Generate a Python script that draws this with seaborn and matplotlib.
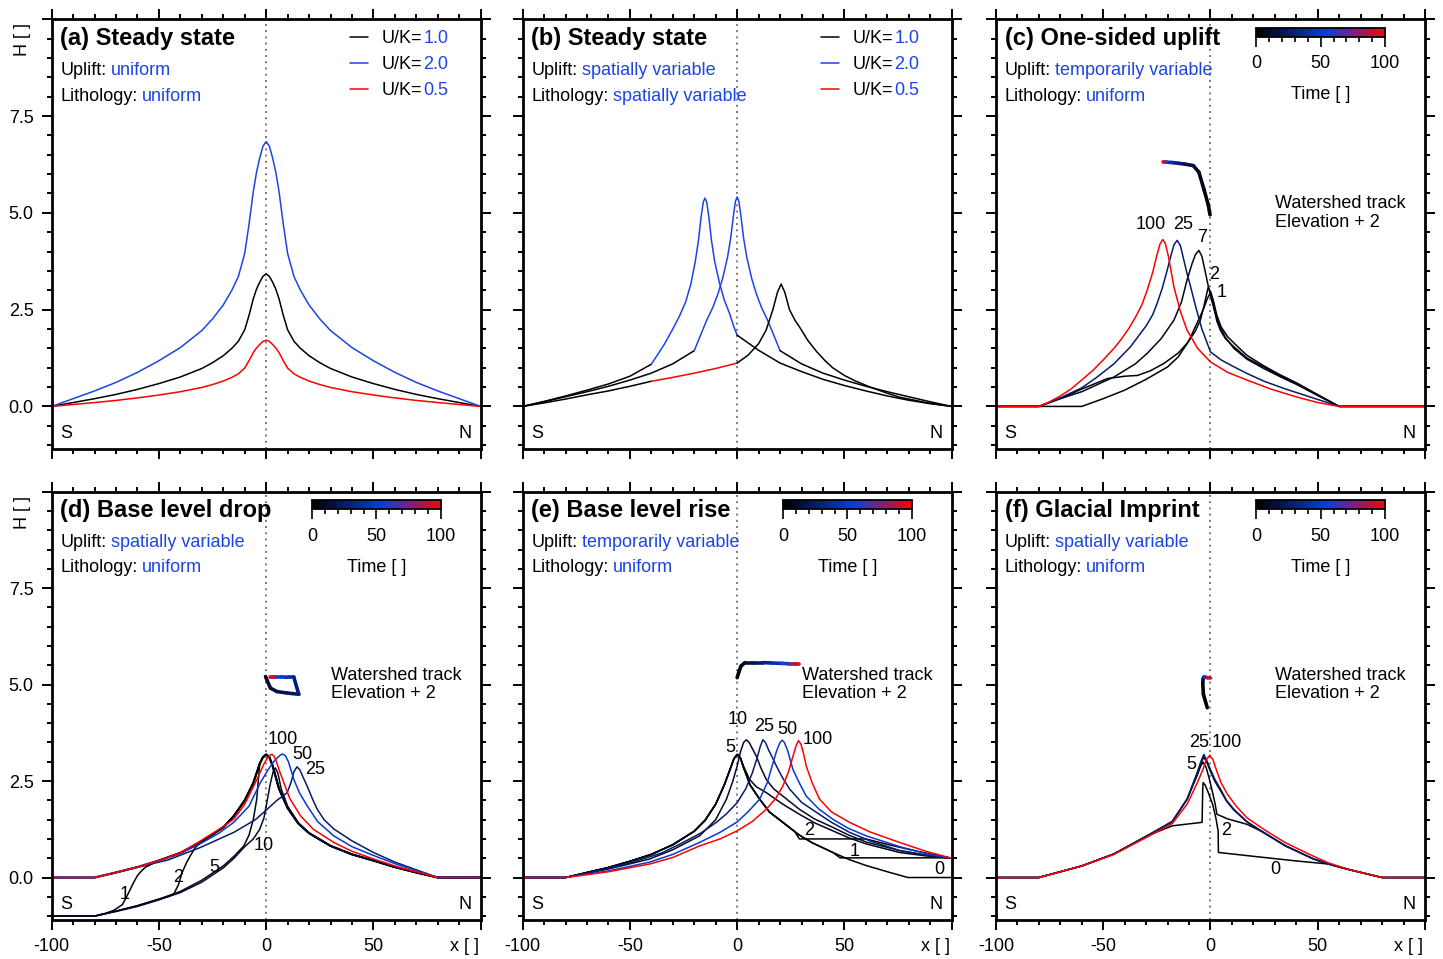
import numpy as np
import matplotlib
matplotlib.use('Agg')
import matplotlib.pyplot as plt
from matplotlib.colors import LinearSegmentedColormap, Normalize
from matplotlib.collections import LineCollection
from matplotlib.lines import Line2D
from matplotlib.ticker import MultipleLocator
import matplotlib.cm as cm
import seaborn as sns

# ---------------- data ----------------
# (a) steady state, uniform uplift / lithology
a_x = [-100, -90, -80, -70, -60, -50, -40, -30, -25, -20, -16, -13, -10, -8, -6, -4.5, -3, -1.5, 0,
       1.5, 3, 4.5, 6, 8, 10, 13, 16, 20, 25, 30, 40, 50, 60, 70, 80, 90, 100]
a_uk1 = [0, 0.1, 0.2, 0.31, 0.44, 0.59, 0.76, 0.98, 1.13, 1.31, 1.5, 1.68, 1.98, 2.35, 2.78, 3.03,
         3.21, 3.36, 3.42,
         3.36, 3.21, 3.03, 2.78, 2.35, 1.98, 1.68, 1.5, 1.31, 1.13, 0.98, 0.76, 0.59, 0.44, 0.31,
         0.2, 0.1, 0]
a_uk2 = [0, 0.2, 0.4, 0.62, 0.88, 1.18, 1.52, 1.96, 2.26, 2.62, 3.0, 3.35, 3.95, 4.7, 5.55, 6.05,
         6.42, 6.72, 6.84,
         6.72, 6.42, 6.05, 5.55, 4.7, 3.95, 3.35, 3.0, 2.62, 2.26, 1.96, 1.52, 1.18, 0.88, 0.62,
         0.4, 0.2, 0]
a_uk05 = [0, 0.05, 0.1, 0.155, 0.22, 0.295, 0.38, 0.49, 0.565, 0.655, 0.75, 0.84, 0.99, 1.18, 1.39,
          1.51, 1.6, 1.68, 1.71,
          1.68, 1.6, 1.51, 1.39, 1.18, 0.99, 0.84, 0.75, 0.655, 0.565, 0.49, 0.38, 0.295, 0.22,
          0.155, 0.1, 0.05, 0]
uk_labels = ['1.0', '2.0', '0.5']

# (b) steady state, spatially variable; each profile split into coloured pieces
b1_black_l_x = [-100, -90, -80, -70, -60, -50, -40]
b1_black_l_y = [0, 0.13, 0.27, 0.42, 0.58, 0.78, 1.09]
b1_blue_x = [-40, -34, -30, -27, -24, -21.5, -19.5, -18, -16.8, -15.8, -15, -14.2, -13.2, -12,
             -10.5, -8.2, -6, -3.6, -1.5, 0]
b1_blue_y = [1.09, 1.6, 2.0, 2.32, 2.7, 3.18, 3.75, 4.3, 4.9, 5.28, 5.38, 5.28, 4.9, 4.3,
             3.75, 3.18, 2.75, 2.41, 2.05, 1.84]
b1_black_r_x = [0, 10, 20, 30, 40, 50, 60, 70, 80, 90, 100]
b1_black_r_y = [1.84, 1.45, 1.12, 0.9, 0.7, 0.54, 0.4, 0.27, 0.16, 0.07, 0]

b2_black_l_x = [-100, -90, -80, -70, -60, -50, -40, -30, -20]
b2_black_l_y = [0, 0.12, 0.25, 0.38, 0.52, 0.68, 0.86, 1.1, 1.44]
b2_blue_x = [-20, -17, -14, -11.4, -9, -6.8, -4.5, -3, -1.8, -0.8, 0, 0.8, 1.8, 3, 4.5, 6.8, 9,
             11.4, 14, 17, 20]
b2_blue_y = [1.44, 1.85, 2.25, 2.55, 2.9, 3.3, 3.85, 4.35, 4.9, 5.3, 5.41, 5.3, 4.9, 4.35, 3.85,
             3.3, 2.9, 2.55, 2.25, 1.85, 1.44]
b2_black_r_x = [20, 30, 40, 50, 60, 70, 80, 90, 100]
b2_black_r_y = [1.44, 1.1, 0.86, 0.68, 0.52, 0.38, 0.25, 0.12, 0]

b3_black_l_x = [-100, -90, -80, -70, -60, -50, -40]
b3_black_l_y = [0, 0.09, 0.19, 0.3, 0.4, 0.52, 0.65]
b3_red_x = [-40, -30, -20, -10, 0]
b3_red_y = [0.65, 0.75, 0.86, 0.98, 1.12]
b3_black_r_x = [0, 5, 10, 13.5, 16.6, 18.8, 20.5, 22.2, 24.4, 27, 29, 33, 37, 41, 44.5, 50, 55,
                62, 70, 75.6, 88, 100]
b3_black_r_y = [1.12, 1.32, 1.62, 1.97, 2.49, 2.95, 3.16, 2.95, 2.5, 2.22, 2.06, 1.7, 1.42, 1.18,
                1.0, 0.8, 0.66, 0.5, 0.34, 0.24, 0.1, 0]

# (c) one-sided uplift, profiles at times 1, 2, 7, 25, 100
c_t = [1, 2, 7, 25, 100]
c1_x = [-100, -60, -50, -40, -30, -20, -15, -10, -7.8, -5, -3, -1.5, -0.3, 0.7, 1.5, 3, 4.6, 7,
        10.9, 17, 24.8, 32, 40.4, 50, 60, 100]
c1_y = [0, 0, 0.2, 0.42, 0.7, 1.02, 1.28, 1.7, 1.97, 2.3, 2.55, 2.78, 2.91, 2.8, 2.58, 2.2, 1.97,
        1.75, 1.54, 1.25, 1.02, 0.8, 0.59, 0.3, 0, 0]
c2_x = [-100, -80, -68.3, -60, -48, -40, -34, -28, -21.7, -15, -10.9, -7, -4.7, -3, -1.1, 0.2,
        1.5, 3, 5, 8, 12, 17, 24.8, 32, 40.4, 50, 60, 100]
c2_y = [0, 0, 0.24, 0.45, 0.72, 0.78, 0.8, 0.92, 1.11, 1.38, 1.63, 1.95, 2.23, 2.6, 3.07, 2.95,
        2.7, 2.35, 2.05, 1.8, 1.58, 1.32, 1.05, 0.83, 0.6, 0.3, 0, 0]
c7_x = [-100, -80, -70, -60, -45, -35, -29.5, -23, -17, -13.5, -10.9, -8.5, -7, -5.4, -4, -2.5,
        -1, 0.5, 2, 3.5, 5, 7, 10.9, 17, 24.8, 32, 40.4, 50, 60, 100]
c7_y = [0, 0, 0.2, 0.38, 0.76, 1.1, 1.37, 1.75, 2.23, 2.7, 3.27, 3.7, 3.92, 4.03, 3.88, 3.5, 3.1,
        2.75, 2.45, 2.2, 2.0, 1.78, 1.5, 1.22, 0.98, 0.78, 0.56, 0.28, 0, 0]
c25_x = [-100, -80, -75, -70, -65, -60, -52.8, -45, -37.3, -30, -27, -24.8, -22.5, -20.5, -18.5,
         -17, -15.5, -14, -12.5, -11, -9.3, -7, -4, 0, 5, 10, 17.1, 25, 35, 45, 60, 100]
c25_y = [0, 0, 0.1, 0.22, 0.35, 0.48, 0.76, 1.1, 1.54, 2.08, 2.36, 2.67, 3.05, 3.45, 3.88, 4.18,
         4.29, 4.15, 3.8, 3.45, 3.1, 2.6, 2.0, 1.41, 1.2, 1.05, 0.85, 0.65, 0.45, 0.27, 0, 0]
c100_x = [-100, -80, -75, -70, -65, -60.5, -55, -50, -45, -41.9, -38, -35, -32, -29.5, -27, -25,
          -23.5, -22.2, -21, -19.5, -17.1, -14, -10.9, -6, 0, 8, 17.1, 28, 40.4, 50, 60, 100]
c100_y = [0, 0, 0.12, 0.27, 0.45, 0.66, 0.92, 1.2, 1.5, 1.71, 2.02, 2.3, 2.62, 3.0, 3.45, 3.9,
          4.2, 4.31, 4.2, 3.85, 3.1, 2.45, 1.97, 1.5, 1.15, 0.88, 0.68, 0.45, 0.24, 0.1, 0, 0]
c_lab_x = [-28, -12.6, -3.7, 1.9, 5.1]
c_lab_y = [4.7, 4.7, 4.36, 3.4, 2.94]
c_lab = ['100', '25', '7', '2', '1']
c_trk_t = [0, 1, 2, 4, 7, 12, 18, 25, 35, 50, 70, 90, 100]
c_trk_x = [-0.2, -0.5, -1, -3, -5.4, -8, -12, -15, -18, -20.5, -21.5, -21.8, -22]
c_trk_y = [4.95, 5.05, 5.2, 5.6, 6.05, 6.22, 6.26, 6.28, 6.3, 6.31, 6.32, 6.32, 6.32]

# (d) base level drop
d_t = [0, 1, 2, 5, 10, 25, 50, 100]
d0_x = [-100, -80, -70, -60, -50, -40, -30, -20, -15, -10, -6, -3, -1.5, 0, 1.5, 3, 6, 10, 15,
        20, 30, 40, 50, 60, 70, 80, 100]
d0_y = [0, 0, 0.13, 0.27, 0.44, 0.64, 0.93, 1.3, 1.6, 2.0, 2.45, 2.95, 3.12, 3.19, 3.12, 2.9,
        2.3, 1.8, 1.4, 1.15, 0.82, 0.6, 0.44, 0.27, 0.13, 0, 0]
d1_x = [-100, -80, -75, -71, -67, -64.7, -62, -60, -58, -56.2, -50, -40, -30, -20, -15, -10,
        -6, -3, -1.5, 0, 1.5, 3, 6, 10, 15, 20, 30, 40, 50, 60, 70, 80, 100]
d1_y = [-1, -1, -0.93, -0.85, -0.7, -0.46, -0.15, 0.05, 0.18, 0.27, 0.44, 0.64, 0.93, 1.3, 1.6,
        2.0, 2.45, 2.95, 3.12, 3.19, 3.12, 2.9, 2.3, 1.8, 1.4, 1.15, 0.82, 0.6, 0.44, 0.27,
        0.13, 0, 0]
d2_x = [-100, -80, -70, -60, -50, -45, -43, -41, -39.1, -37, -35.3, -33, -30, -20, -15, -10, -6,
        -3, -1.5, 0, 1.5, 3, 6, 10, 15, 20, 30, 40, 50, 60, 70, 80, 100]
d2_y = [-1, -1, -0.87, -0.73, -0.56, -0.48, -0.42, -0.2, 0.14, 0.4, 0.57, 0.78, 0.93, 1.3, 1.6,
        2.0, 2.45, 2.95, 3.12, 3.19, 3.12, 2.9, 2.3, 1.8, 1.4, 1.15, 0.82, 0.6, 0.44, 0.27,
        0.13, 0, 0]
d5_x = [-100, -80, -70, -60, -50, -40, -30, -20, -15, -10.4, -8, -6, -4.4, -3, -1.5, 0, 1.5, 3,
        6, 10, 15, 20, 30, 40, 50, 60, 70, 80, 100]
d5_y = [-1, -1, -0.87, -0.73, -0.56, -0.36, -0.07, 0.3, 0.55, 0.82, 1.1, 1.5, 2.03, 2.95, 3.12,
        3.19, 3.12, 2.9, 2.3, 1.8, 1.4, 1.15, 0.82, 0.6, 0.44, 0.27, 0.13, 0, 0]
d10_x = [-100, -80, -70, -60, -50, -40, -30, -20, -15, -10, -6, -3, -1, 0.5, 2, 3.3, 4.3, 5.5, 7,
         10, 15, 20, 30, 40, 50, 60, 70, 80, 100]
d10_y = [-1, -1, -0.88, -0.75, -0.58, -0.39, -0.12, 0.25, 0.5, 0.8, 1.0, 1.25, 1.55, 2.0, 2.45,
         2.75, 2.84, 2.7, 2.3, 1.85, 1.42, 1.15, 0.82, 0.6, 0.44, 0.27, 0.13, 0, 0]
d25_x = [-100, -80, -70, -60, -46, -30.6, -15.1, -5, 0.5, 5, 8, 9.8, 11.5, 13, 14.4, 15.8, 17.2,
         19.1, 21.5, 23.8, 27, 31.5, 40, 50, 60, 70, 80, 100]
d25_y = [0, 0, 0.13, 0.27, 0.45, 0.78, 1.17, 1.5, 1.77, 2.0, 2.12, 2.2, 2.45, 2.75, 2.87, 2.78,
         2.6, 2.37, 2.05, 1.77, 1.5, 1.26, 0.95, 0.65, 0.4, 0.2, 0, 0]
d50_x = [-100, -80, -70, -60, -50, -40, -30.6, -22, -15.1, -8, -2.7, 1, 3.5, 5.5, 6.8, 7.9, 9,
         10.4, 12.9, 15.5, 19.1, 24, 31.5, 40, 50.1, 60, 70, 80, 100]
d50_y = [0, 0, 0.13, 0.27, 0.43, 0.62, 0.88, 1.15, 1.43, 1.85, 2.46, 2.8, 3.0, 3.12, 3.18, 3.2,
         3.15, 3.0, 2.54, 2.2, 1.86, 1.45, 1.08, 0.8, 0.57, 0.36, 0.18, 0, 0]
d100_x = [-100, -80, -70, -60, -50, -40, -30.6, -22, -15.1, -10, -5.8, -3, -1, 0.8, 2, 2.8, 3.6,
          4.8, 6.3, 8.2, 11, 16, 22, 31.5, 40, 50.1, 60, 70, 80, 100]
d100_y = [0, 0, 0.13, 0.27, 0.44, 0.64, 0.95, 1.25, 1.51, 1.9, 2.37, 2.7, 2.95, 3.12, 3.18,
          3.19, 3.15, 3.0, 2.75, 2.46, 2.05, 1.6, 1.25, 0.91, 0.68, 0.48, 0.3, 0.15, 0, 0]
d_lab_x = [7.9, 16.8, 23, -1.1, -24.1, -41.2, -66]
d_lab_y = [3.57, 3.19, 2.8, 0.83, 0.27, 0.0, -0.44]
d_lab = ['100', '50', '25', '10', '5', '2', '1']
d_trk_t = [0, 10, 13, 16, 20, 25, 30, 40, 50, 60, 75, 90, 100]
d_trk_x = [-0.3, 0.5, 2, 5, 10, 15.2, 12.9, 10, 7, 4.5, 3.5, 2.8, 2.0]
d_trk_y = [5.21, 5.1, 4.91, 4.82, 4.78, 4.75, 5.19, 5.19, 5.2, 5.2, 5.2, 5.2, 5.2]

# (e) base level rise
e_t = [0, 1, 2, 5, 10, 25, 50, 100]
e0_x = [-100, -80, -70, -60, -50, -40, -30, -20, -15, -10, -6, -3, -1.5, 0, 1.5, 3, 6, 10.5, 15,
        21.3, 29, 35, 44.6, 52, 60.2, 70, 79.6, 100]
e0_y = [0, 0, 0.13, 0.26, 0.42, 0.6, 0.85, 1.2, 1.48, 1.9, 2.4, 2.85, 3.08, 3.19, 3.1, 2.85,
        2.4, 2.03, 1.7, 1.43, 1.1, 0.9, 0.65, 0.47, 0.31, 0.15, 0, 0]
e1_x = [-100, -80, -70, -60, -50, -40, -30, -20, -15, -10, -6, -3, -1.5, 0, 1.5, 3, 6, 10.5, 15,
        21.3, 29, 35, 44.6, 48, 100]
e1_y = [0, 0, 0.13, 0.26, 0.42, 0.6, 0.85, 1.2, 1.48, 1.9, 2.4, 2.85, 3.08, 3.19, 3.1, 2.85,
        2.4, 2.03, 1.7, 1.43, 1.1, 0.9, 0.65, 0.51, 0.51]
e2_x = [-100, -80, -70, -60, -50, -40, -30, -20, -15, -10, -6, -3, -1.5, 0, 1.5, 3, 6, 10.5, 15,
        21.3, 27, 29, 60, 70, 80, 90, 100]
e2_y = [0, 0, 0.13, 0.26, 0.42, 0.6, 0.85, 1.2, 1.48, 1.9, 2.4, 2.85, 3.08, 3.19, 3.1, 2.85,
        2.4, 2.03, 1.7, 1.43, 1.18, 1.0, 1.0, 0.86, 0.73, 0.61, 0.5]
e5_x = [-100, -80, -70, -60, -50, -40, -30, -20, -15, -10, -6, -3, -1.5, 0, 1.5, 3, 5.8, 9,
        13.6, 21.3, 29, 36, 44.6, 52, 60.2, 75.7, 88, 100]
e5_y = [0, 0, 0.13, 0.26, 0.42, 0.6, 0.85, 1.2, 1.48, 1.9, 2.4, 2.85, 3.08, 3.19, 3.1, 2.88,
        2.54, 2.35, 2.2, 1.9, 1.64, 1.42, 1.21, 1.03, 0.87, 0.65, 0.56, 0.5]
e10_x = [-100, -80, -60, -40.8, -30, -17.5, -10, -5, -2, 0, 1.5, 3, 4.3, 5.6, 7, 8.9, 11, 13.6,
         17, 21.3, 29, 36, 44.6, 52, 60.2, 75.7, 88, 100]
e10_y = [0, 0, 0.22, 0.48, 0.72, 1.08, 1.5, 2.03, 2.5, 2.89, 3.25, 3.5, 3.57, 3.5, 3.35, 3.15,
         2.85, 2.54, 2.3, 2.11, 1.77, 1.52, 1.3, 1.1, 0.92, 0.7, 0.58, 0.5]
e25_x = [-100, -80, -65, -48.5, -35, -25.2, -17, -9.7, -5, 0, 4, 7, 9.3, 10.8, 12, 13.2, 14.7,
         16.5, 18.3, 21, 24.5, 30, 36.9, 44, 52.4, 62, 75.7, 88, 100]
e25_y = [0, 0, 0.18, 0.4, 0.64, 0.91, 1.15, 1.43, 1.65, 1.94, 2.3, 2.7, 3.1, 3.4, 3.57, 3.5,
         3.3, 3.1, 2.89, 2.6, 2.29, 1.95, 1.69, 1.43, 1.17, 0.95, 0.7, 0.58, 0.5]
e50_x = [-100, -80, -60, -40.8, -30, -17.5, -8, 0, 5, 10.5, 14, 16.7, 18.5, 20, 21, 22, 23.5, 26,
         29, 32.2, 38, 44.6, 52, 60.2, 75.7, 88, 100]
e50_y = [0, 0, 0.17, 0.4, 0.6, 0.91, 1.17, 1.44, 1.7, 2.03, 2.45, 2.97, 3.3, 3.5, 3.56, 3.5,
         3.3, 2.8, 2.45, 2.11, 1.78, 1.51, 1.27, 1.08, 0.8, 0.62, 0.5]
e100_x = [-100, -80, -60, -40.8, -30, -17.5, -8, 0, 7, 13.6, 18, 21.3, 24, 26, 27.5, 28.6, 29.8,
          31, 32.2, 35, 38.4, 44, 52.4, 62, 75.7, 88, 100]
e100_y = [0, 0, 0.15, 0.35, 0.52, 0.82, 1.0, 1.21, 1.45, 1.77, 2.05, 2.37, 2.75, 3.14, 3.42,
          3.55, 3.45, 3.2, 2.89, 2.45, 2.03, 1.7, 1.43, 1.18, 0.91, 0.68, 0.5]
e_lab_x = [0.4, 12.5, 23.4, 37.6, -3.2, 33.5, 54.7, 94.3]
e_lab_y = [4.09, 3.92, 3.83, 3.59, 3.36, 1.21, 0.68, 0.2]
e_lab = ['10', '25', '50', '100', '5', '2', '1', '0']
e_trk_t = [0, 3, 6, 10, 18, 25, 35, 50, 65, 80, 90, 100]
e_trk_x = [0, 0.8, 1.8, 3.6, 8, 12, 16, 21, 24, 26.5, 28, 29]
e_trk_y = [5.18, 5.33, 5.48, 5.57, 5.57, 5.57, 5.56, 5.55, 5.54, 5.54, 5.53, 5.53]

# (f) glacial imprint
f_t = [0, 2, 5, 25, 100]
f0_x = [-100, -80, -70, -60, -45, -29.5, -17.8, -3.9, -3.6, -3.4, -2.5, -1, 1, 2.5, 3.6, 3.7,
        20, 40, 55, 65, 80, 100]
f0_y = [0, 0, 0.15, 0.3, 0.61, 1.08, 1.34, 1.43, 2.3, 2.46, 2.4, 2.2, 1.9, 1.55, 1.2, 0.65, 0.55,
        0.43, 0.35, 0.2, 0, 0]
f2_x = [-100, -80, -70, -60, -45, -29.5, -17.8, -10.9, -6.2, -4.5, -3.4, -2, -0.5, 1, 2.2, 3.0,
        8, 17, 24.8, 35, 48.1, 55, 65, 80, 100]
f2_y = [0, 0, 0.15, 0.3, 0.61, 1.08, 1.45, 2.03, 2.65, 2.9, 2.99, 2.85, 2.55, 2.2, 1.9, 1.64,
        1.52, 1.38, 1.17, 0.82, 0.48, 0.35, 0.2, 0, 0]
f5_x = [-100, -80, -70, -60, -45, -29.5, -17.8, -10.9, -6.2, -4.5, -3.2, -1.8, 0, 2, 4.7, 7.5,
        10.9, 17, 24.8, 35, 48.1, 55, 65, 80, 100]
f5_y = [0, 0, 0.15, 0.3, 0.61, 1.08, 1.45, 2.03, 2.68, 2.95, 3.12, 3.0, 2.75, 2.5, 2.25, 1.98,
        1.75, 1.44, 1.16, 0.82, 0.48, 0.35, 0.2, 0, 0]
f25_x = [-100, -80, -70, -60, -45, -29.5, -17.8, -10.9, -6.2, -4.5, -3.1, -1.8, 0, 2, 4.7, 7.5,
         10.9, 17, 24.8, 35, 48.1, 55, 65, 80, 100]
f25_y = [0, 0, 0.15, 0.3, 0.61, 1.08, 1.45, 2.03, 2.72, 3.0, 3.19, 3.05, 2.8, 2.55, 2.29, 2.0,
         1.77, 1.45, 1.17, 0.82, 0.48, 0.35, 0.2, 0, 0]
f100_x = [-100, -80, -70, -60, -45, -29.5, -17.8, -10.9, -6.2, -3.5, -2, -0.3, 1.2, 3, 5, 8, 12,
          17, 24.8, 35, 48.1, 55, 65, 80, 100]
f100_y = [0, 0, 0.15, 0.3, 0.6, 1.05, 1.4, 1.9, 2.45, 2.8, 3.05, 3.17, 3.05, 2.75, 2.45, 2.15,
          1.85, 1.55, 1.25, 0.9, 0.55, 0.38, 0.2, 0, 0]
f_lab_x = [-5.4, 7.5, -9, 7.5, 30.3]
f_lab_y = [3.49, 3.49, 2.93, 1.21, 0.22]
f_lab = ['25', '100', '5', '2', '0']
f_trk_t = [0, 2, 5, 10, 25, 50, 75, 100]
f_trk_x = [-1.5, -3.3, -3.6, -3.4, -3.1, -2.5, -1.5, 0]
f_trk_y = [4.4, 4.75, 5.05, 5.15, 5.19, 5.19, 5.18, 5.17]

# ---------------- style ----------------
sns.set_style('ticks')
plt.rcParams['font.family'] = ['Liberation Sans', 'DejaVu Sans']
for k in ['text.color', 'axes.labelcolor', 'xtick.color', 'ytick.color', 'axes.edgecolor']:
    plt.rcParams[k] = 'black'
BLUE = '#1c44e8'
FS = 13
time_cmap = LinearSegmentedColormap.from_list(
    'time', [(0, '#000000'), (0.55, '#0a3de6'), (1, '#ff0000')])
tnorm = Normalize(0, 100)

fig = plt.figure(figsize=(14.43, 9.59), dpi=100)
lefts = [0.0358, 0.3622, 0.6902]
w = 0.2973
rows = [(0.5318, 0.4481), (0.0407, 0.4466)]
axes = []
for r, (b, h) in enumerate(rows):
    for c in range(3):
        axes.append(fig.add_axes([lefts[c], b, w, h]))


def line(ax, x, y, color, lw=1.1, label=None):
    sns.lineplot(x=x, y=y, ax=ax, color=color, lw=lw, sort=False,
                 estimator=None, label=label, legend=False)


def info(ax, y, key, val):
    t = ax.text(0.02, y, key, transform=ax.transAxes, fontsize=FS, va='center')
    ax.annotate(val, xy=(1, 0), xycoords=t, xytext=(3, 0), textcoords='offset points',
                va='bottom', ha='left', color=BLUE, fontsize=FS)


def track(ax, t, x, y):
    pts = np.column_stack([x, y])
    segs = np.stack([pts[:-1], pts[1:]], axis=1)
    lc = LineCollection(segs, cmap=time_cmap, norm=tnorm, linewidths=2.6, capstyle='round')
    lc.set_array((np.asarray(t[:-1], float) + np.asarray(t[1:], float)) / 2)
    ax.add_collection(lc)
    ax.text(30, 5.0, 'Watershed track\nElevation + 2', fontsize=FS, va='center',
            ha='left', linespacing=1.12)


def timebar(ax):
    cax = ax.inset_axes([0.607, 0.9595, 0.30, 0.02])
    cb = fig.colorbar(cm.ScalarMappable(norm=tnorm, cmap=time_cmap), cax=cax,
                      orientation='horizontal')
    cb.set_ticks([0, 50, 100])
    cax.xaxis.set_minor_locator(MultipleLocator(10))
    cax.tick_params(which='major', length=7, width=1.2, labelsize=FS, pad=6.5)
    cax.tick_params(which='minor', length=3.5, width=1.2)
    cb.outline.set_linewidth(1.3)
    cb.set_label('Time [ ]', fontsize=FS, labelpad=10)


def legend_uk(ax, handles):
    leg = ax.legend(handles, ['U/K='] * 3, loc='upper left', bbox_to_anchor=(0.695, 0.975),
                    frameon=False, fontsize=FS, handlelength=1.0, handletextpad=0.75,
                    labelspacing=0.5, borderaxespad=0, borderpad=0)
    for txt, v in zip(leg.get_texts(), uk_labels):
        ax.annotate(v, xy=(1, 0), xycoords=txt, xytext=(1, 0), textcoords='offset points',
                    va='bottom', ha='left', color=BLUE, fontsize=FS, zorder=10)


titles = ['(a) Steady state', '(b) Steady state', '(c) One-sided uplift',
          '(d) Base level drop', '(e) Base level rise', '(f) Glacial Imprint']
uplift = ['uniform', 'spatially variable', 'temporarily variable',
          'spatially variable', 'temporarily variable', 'spatially variable']
litho = ['uniform', 'spatially variable', 'uniform', 'uniform', 'uniform', 'uniform']

for i, ax in enumerate(axes):
    ax.set_xlim(-100, 100)
    ax.set_ylim(-1.1, 10)
    ax.axvline(0, color='#7a7a7a', lw=1.4, ls=(0, (1, 2.2)), zorder=1)
    ax.xaxis.set_major_locator(MultipleLocator(50))
    ax.xaxis.set_minor_locator(MultipleLocator(10))
    ax.yaxis.set_major_locator(MultipleLocator(2.5))
    ax.yaxis.set_minor_locator(MultipleLocator(0.5))
    ax.tick_params(which='both', direction='out', top=True, right=True, width=1.4,
                   labelsize=FS)
    ax.tick_params(which='major', length=7, pad=6)
    ax.tick_params(which='minor', length=3.5)
    for s in ax.spines.values():
        s.set_linewidth(2.0)
        s.set_visible(True)
    if i % 3 == 0:
        ax.set_yticks([0, 2.5, 5, 7.5, 10])
        ax.set_yticklabels(['0.0', '2.5', '5.0', '7.5', ''])
        ax.text(-0.069, 0.952, 'H [ ]', rotation=90, transform=ax.transAxes,
                ha='center', va='center', fontsize=FS)
    else:
        ax.set_yticklabels([])
    if i >= 3:
        ax.set_xticks([-100, -50, 0, 50, 100])
        ax.set_xticklabels(['-100', '-50', '0', '50', ''])
        ax.text(0.995, -0.063, 'x [ ]', transform=ax.transAxes, ha='right', va='center',
                fontsize=FS)
    else:
        ax.set_xticklabels([])
    ax.set_xlabel('')
    ax.set_ylabel('')
    ty = 0.956 if i < 3 else 0.957
    ax.text(0.02, ty, titles[i], transform=ax.transAxes, fontsize=17, fontweight='bold',
            va='center')
    info(ax, ty - 0.075, 'Uplift:', uplift[i])
    info(ax, ty - 0.135, 'Lithology:', litho[i])
    ax.text(0.033, 0.035, 'S', transform=ax.transAxes, fontsize=FS, ha='center', va='center')
    ax.text(0.963, 0.035, 'N', transform=ax.transAxes, fontsize=FS, ha='center', va='center')

# (a)
ax = axes[0]
line(ax, a_x, a_uk1, 'black')
line(ax, a_x, a_uk2, BLUE)
line(ax, a_x, a_uk05, '#ff0000')
legend_uk(ax, ax.get_lines()[1:4])

# (b)
ax = axes[1]
line(ax, b1_black_l_x, b1_black_l_y, 'black')
line(ax, b1_blue_x, b1_blue_y, BLUE)
line(ax, b1_black_r_x, b1_black_r_y, 'black')
line(ax, b2_black_l_x, b2_black_l_y, 'black')
line(ax, b2_blue_x, b2_blue_y, BLUE)
line(ax, b2_black_r_x, b2_black_r_y, 'black')
line(ax, b3_black_l_x, b3_black_l_y, 'black')
line(ax, b3_red_x, b3_red_y, '#ff0000')
line(ax, b3_black_r_x, b3_black_r_y, 'black')
legend_uk(ax, [Line2D([], [], color=c, lw=1.1) for c in ['black', BLUE, '#ff0000']])

# (c)
ax = axes[2]
for t, x, y in zip(c_t, [c1_x, c2_x, c7_x, c25_x, c100_x], [c1_y, c2_y, c7_y, c25_y, c100_y]):
    line(ax, x, y, time_cmap(tnorm(t)))
for lx, ly, s in zip(c_lab_x, c_lab_y, c_lab):
    ax.text(lx, ly, s, fontsize=FS, ha='center', va='center')
track(ax, c_trk_t, c_trk_x, c_trk_y)
timebar(ax)

# (d)
ax = axes[3]
for t, x, y in zip(d_t, [d0_x, d1_x, d2_x, d5_x, d10_x, d25_x, d50_x, d100_x],
                   [d0_y, d1_y, d2_y, d5_y, d10_y, d25_y, d50_y, d100_y]):
    line(ax, x, y, time_cmap(tnorm(t)), lw=1.6 if t == 0 else 1.1)
for lx, ly, s in zip(d_lab_x, d_lab_y, d_lab):
    ax.text(lx, ly, s, fontsize=FS, ha='center', va='center')
track(ax, d_trk_t, d_trk_x, d_trk_y)
timebar(ax)

# (e)
ax = axes[4]
for t, x, y in zip(e_t, [e0_x, e1_x, e2_x, e5_x, e10_x, e25_x, e50_x, e100_x],
                   [e0_y, e1_y, e2_y, e5_y, e10_y, e25_y, e50_y, e100_y]):
    line(ax, x, y, time_cmap(tnorm(t)))
for lx, ly, s in zip(e_lab_x, e_lab_y, e_lab):
    ax.text(lx, ly, s, fontsize=FS, ha='center', va='center')
track(ax, e_trk_t, e_trk_x, e_trk_y)
timebar(ax)

# (f)
ax = axes[5]
for t, x, y in zip(f_t, [f0_x, f2_x, f5_x, f25_x, f100_x], [f0_y, f2_y, f5_y, f25_y, f100_y]):
    line(ax, x, y, time_cmap(tnorm(t)))
for lx, ly, s in zip(f_lab_x, f_lab_y, f_lab):
    ax.text(lx, ly, s, fontsize=FS, ha='center', va='center')
track(ax, f_trk_t, f_trk_x, f_trk_y)
timebar(ax)

fig.savefig('out.png', dpi=100)
